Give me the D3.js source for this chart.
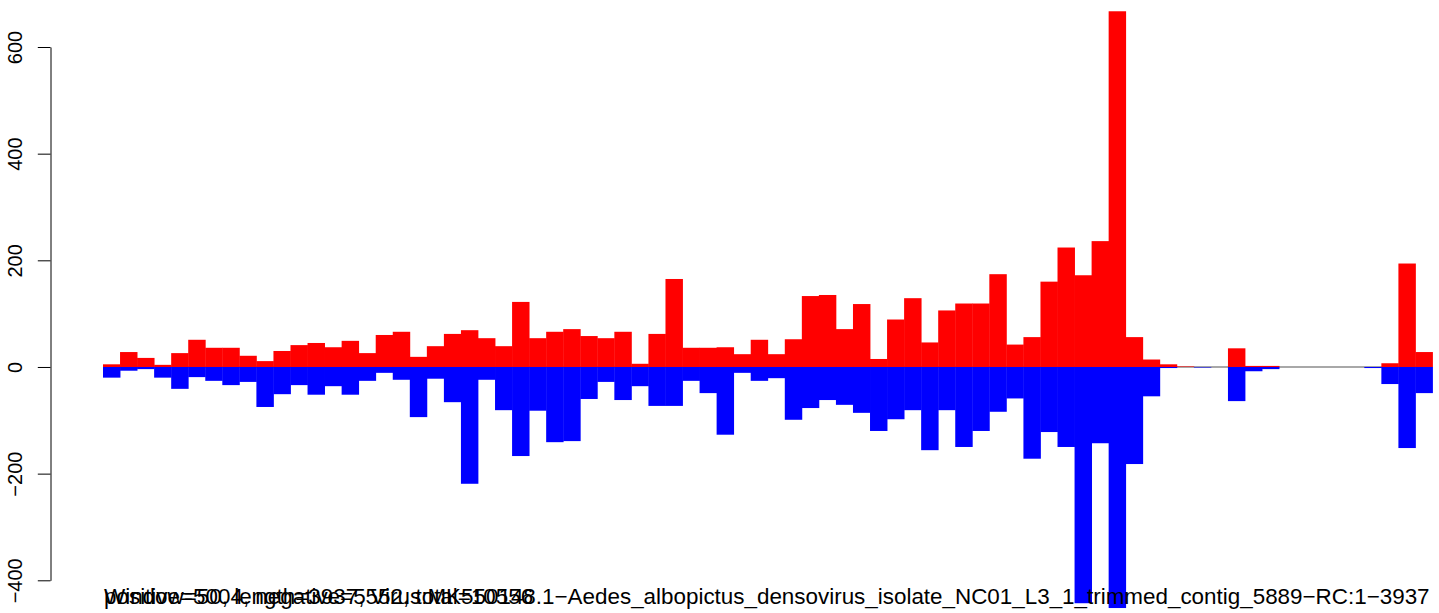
<!DOCTYPE html>
<html>
<head>
<meta charset="utf-8">
<script src="https://cdn.jsdelivr.net/npm/d3@7"></script>
<style>
  body { margin: 0; background: #fff; }
  svg { display: block; font-family: "Liberation Sans", Arial, Helvetica, sans-serif; }
</style>
</head>
<body>
<svg id="chart" width="1439" height="613"></svg>
<script>
// reads per window of 50 nt
var posCounts = [5, 28, 17, 4, 26, 51, 36, 36, 21, 11, 30, 41, 45, 37, 49, 26, 60, 66, 19, 39,
                 62, 69, 54, 39, 122, 54, 66, 71, 58, 54, 66, 6, 62, 165, 36, 36, 37, 24, 51, 24,
                 52, 133, 135, 71, 118, 15, 89, 129, 46, 106, 119, 119, 174, 42, 56, 160, 224, 172, 236, 667,
                 56, 14, 5, 1, 0, 0, 35, 2, 2, 0, 0, 0, 0, 0, 0, 7, 194, 28];
var negCounts = [-20, -7, -4, -20, -41, -19, -26, -34, -28, -75, -51, -34, -52, -36, -52, -26, -11, -24, -94, -22,
                 -66, -219, -24, -81, -167, -82, -141, -139, -60, -28, -62, -36, -73, -73, -26, -49, -127, -11, -26, -21,
                 -99, -77, -62, -71, -86, -120, -98, -81, -156, -81, -150, -120, -84, -59, -172, -122, -150, -443, -143, -452,
                 -182, -55, -2, 0, -1, 0, -64, -8, -4, 0, 0, 0, 0, 0, -2, -32, -152, -49];
var yTicks = [-400, -200, 0, 200, 400, 600];
var infoText = "Window=50, length=3937, Virus:MK550148.1\u2212Aedes_albopictus_densovirus_isolate_NC01_L3_1_trimmed_contig_5889\u2212RC:1\u22123937";
var countText = "positive=5004, negative=5552, total=10556";

var svg = d3.select("#chart");

var x = d3.scaleBand()
  .domain(d3.range(posCounts.length))
  .range([103, 1432.5])
  .padding(0);

var y = d3.scaleLinear()
  .domain([-400, 600])
  .range([580.3, 47]);

// zero line under the bars
svg.append("line")
  .attr("x1", x(0))
  .attr("x2", x(posCounts.length - 1) + x.bandwidth())
  .attr("y1", y(0))
  .attr("y2", y(0))
  .attr("stroke", "#a8a8a8")
  .attr("stroke-width", 2);

svg.append("g")
  .selectAll("rect")
  .data(posCounts)
  .enter().append("rect")
    .attr("x", function (d, i) { return x(i); })
    .attr("width", x.bandwidth() + 0.4)
    .attr("y", function (d) { return y(d); })
    .attr("height", function (d) { return y(0) - y(d); })
    .attr("fill", "#ff0000");

svg.append("g")
  .selectAll("rect")
  .data(negCounts)
  .enter().append("rect")
    .attr("x", function (d, i) { return x(i); })
    .attr("width", x.bandwidth() + 0.4)
    .attr("y", y(0))
    .attr("height", function (d) { return y(d) - y(0); })
    .attr("fill", "#0000ff");

var axis = svg.append("g")
  .attr("transform", "translate(50.5,0)")
  .call(d3.axisLeft(y).tickValues(yTicks).tickSize(12.7).tickSizeOuter(0).tickFormat(d3.format("d")));

axis.select(".domain").attr("stroke", "#000").attr("stroke-width", 1);
axis.selectAll(".tick line").attr("stroke", "#000").attr("stroke-width", 1);
axis.selectAll(".tick text")
  .attr("x", null)
  .attr("dy", null)
  .attr("text-anchor", "middle")
  .attr("transform", "translate(-28.5,0) rotate(-90)")
  .attr("fill", "#000")
  .style("font-size", "20px")
  .style("font-family", "'Liberation Sans', Arial, sans-serif")
  .text(function (d) { return d < 0 ? "\u2212" + Math.abs(d) : d; });

// two captions printed on top of each other, as in the original
function caption(str) {
  var t = svg.append("text")
    .attr("x", 104)
    .attr("y", 603.5)
    .attr("fill", "#000")
    .style("font-size", "20px")
    .text(str);
  return t;
}

var a = caption(infoText);
var fs = 20 * 1326 / a.node().getComputedTextLength();
a.style("font-size", fs + "px");
caption(countText).style("font-size", fs + "px");
</script>
</body>
</html>
